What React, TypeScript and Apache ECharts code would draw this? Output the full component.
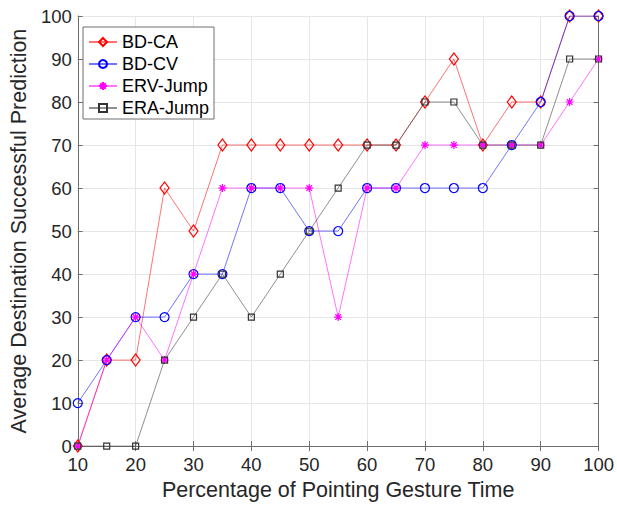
import React, { useEffect, useRef } from "react";
import * as echarts from "echarts";

const xValues = [10, 15, 20, 25, 30, 35, 40, 45, 50, 55, 60, 65, 70, 75, 80, 85, 90, 95, 100];
const bdCA = [0, 20, 20, 60, 50, 70, 70, 70, 70, 70, 70, 70, 80, 90, 70, 80, 80, 100, 100];
const bdCV = [10, 20, 30, 30, 40, 40, 60, 60, 50, 50, 60, 60, 60, 60, 60, 70, 80, 100, 100];
const ervJump = [0, 20, 30, 20, 40, 60, 60, 60, 60, 30, 60, 60, 70, 70, 70, 70, 70, 80, 90];
const eraJump = [0, 0, 0, 20, 30, 40, 30, 40, 50, 60, 70, 70, 80, 80, 70, 70, 70, 90, 90];
const seriesNames = ["BD-CA", "BD-CV", "ERV-Jump", "ERA-Jump"];
const xTitle = "Percentage of Pointing Gesture Time";
const yTitle = "Average Destination Successful Prediction";

const FONT = "'Liberation Sans', Arial, Helvetica, sans-serif";
const TXT = "#262626";
const AXIS = "#6e6e6e";
const asterisk = "path://M5,0L5,10M0,5L10,5M1.5,1.5L8.5,8.5M8.5,1.5L1.5,8.5";

export default function App() {
  const ref = useRef<HTMLDivElement>(null);
  useEffect(() => {
    if (!ref.current) return;
    const chart = echarts.init(ref.current, null, { renderer: "svg" });
    const pair = (arr: number[]) => xValues.map((x, i) => [x, arr[i]]);
    const mk = (name: string, data: number[], color: string, symbol: string, size: number | number[]) => ({
      name,
      type: "line",
      data: pair(data),
      symbol,
      symbolSize: size,
      showAllSymbol: true,
      lineStyle: { color, width: 1, opacity: 0.55 },
      itemStyle: { color: "rgba(255,255,255,0)", borderColor: color, borderWidth: 1.2 },
      emphasis: { disabled: true },
    });
    const axisCommon = {
      axisLine: { show: true, lineStyle: { color: AXIS, width: 1 } },
      axisTick: { show: true, inside: true, length: 5, lineStyle: { color: AXIS } },
    };
    chart.setOption({
      animation: false,
      grid: { left: 73, right: 13, top: 16, bottom: 56, containLabel: false },
      legend: {
        left: 83,
        top: 27,
        orient: "vertical",
        data: seriesNames,
        backgroundColor: "#fff",
        borderColor: AXIS,
        borderWidth: 1,
        padding: [5, 5, 1, 5],
        itemGap: 2,
        itemWidth: 28,
        itemHeight: 10,
        textStyle: { fontFamily: FONT, fontSize: 18, color: "#000", lineHeight: 20 },
      },
      xAxis: [
        {
          type: "value",
          min: 10,
          max: 100,
          interval: 10,
          name: xTitle,
          nameLocation: "middle",
          nameGap: 32,
          nameTextStyle: { fontFamily: FONT, fontSize: 21.5, color: TXT },
          axisLabel: { fontFamily: FONT, fontSize: 18.5, color: TXT, margin: 9 },
          splitLine: { show: true, lineStyle: { color: "#e6e6e6" } },
          ...axisCommon,
        },
        {
          type: "value",
          position: "top",
          min: 10,
          max: 100,
          interval: 10,
          axisLabel: { show: false },
          splitLine: { show: false },
          ...axisCommon,
        },
      ],
      yAxis: [
        {
          type: "value",
          min: 0,
          max: 100,
          interval: 10,
          name: yTitle,
          nameLocation: "middle",
          nameGap: 42,
          nameTextStyle: { fontFamily: FONT, fontSize: 21.5, color: TXT },
          axisLabel: { fontFamily: FONT, fontSize: 18.5, color: TXT, margin: 6 },
          splitLine: { show: true, lineStyle: { color: "#e6e6e6" } },
          ...axisCommon,
        },
        {
          type: "value",
          position: "right",
          min: 0,
          max: 100,
          interval: 10,
          axisLabel: { show: false },
          splitLine: { show: false },
          ...axisCommon,
        },
      ],
      series: [
        mk(seriesNames[0], bdCA, "#ff0000", "diamond", [9, 12]),
        mk(seriesNames[1], bdCV, "#0000ff", "circle", 9),
        mk(seriesNames[2], ervJump, "#ff00ff", asterisk, 8),
        mk(seriesNames[3], eraJump, "#333333", "rect", 6),
      ],
    });
    return () => chart.dispose();
  }, []);
  return (
    <div
      ref={ref}
      style={{ position: "fixed", left: 0, top: 0, width: 617, height: 506, background: "#fff" }}
    />
  );
}
